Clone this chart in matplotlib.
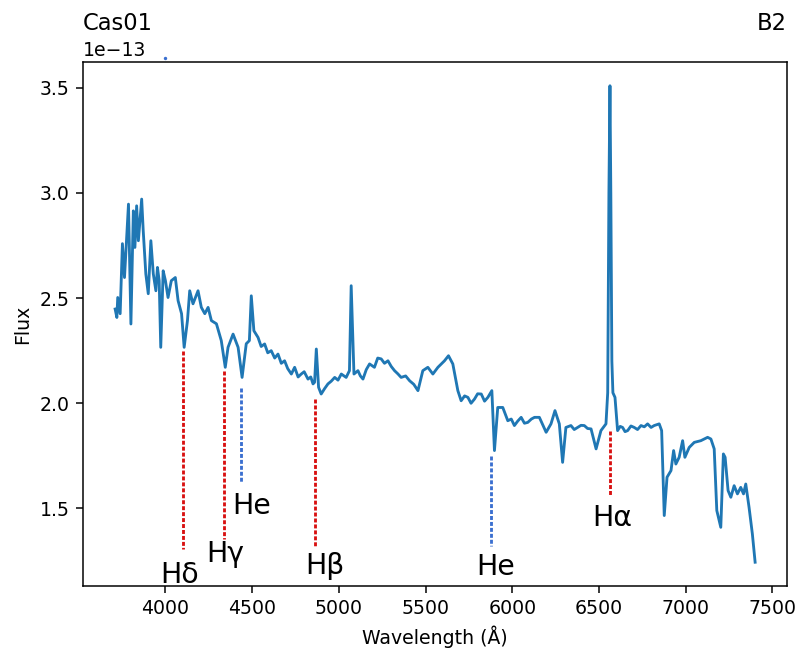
import matplotlib
matplotlib.use("Agg")
import matplotlib.pyplot as plt
import numpy as np

# Spectrum (wavelength in Angstrom, flux in units of 1e-13)
wavelength = [3710, 3720, 3725, 3739, 3752, 3764, 3787, 3801, 3815, 3824, 3834, 3844, 3863, 3872,
              3887, 3901, 3916, 3930, 3945, 3954, 3964, 3973, 3987, 4000, 4015, 4034, 4057, 4073,
              4093, 4108, 4127, 4140, 4159, 4188, 4207, 4227, 4246, 4265, 4294, 4322, 4345, 4361,
              4390, 4419, 4442, 4466, 4484, 4495, 4510, 4534, 4552, 4572, 4590, 4610, 4630, 4649,
              4668, 4687, 4705, 4726, 4745, 4765, 4783, 4800, 4822, 4838, 4851, 4860, 4870, 4883,
              4898, 4918, 4937, 4956, 4976, 4995, 5014, 5042, 5061, 5071, 5087, 5110, 5124, 5139,
              5158, 5177, 5205, 5224, 5244, 5263, 5283, 5302, 5321, 5340, 5359, 5385, 5408, 5432,
              5456, 5484, 5513, 5542, 5571, 5609, 5632, 5657, 5686, 5705, 5725, 5744, 5762, 5782,
              5800, 5821, 5840, 5859, 5882, 5897, 5916, 5945, 5974, 5994, 6012, 6031, 6051, 6070,
              6089, 6110, 6128, 6156, 6195, 6223, 6246, 6271, 6290, 6309, 6338, 6357, 6377, 6396,
              6415, 6434, 6454, 6483, 6511, 6540, 6550, 6557, 6563, 6568, 6574, 6580, 6592, 6607,
              6622, 6636, 6650, 6665, 6684, 6703, 6722, 6742, 6761, 6780, 6800, 6818, 6847, 6861,
              6876, 6892, 6915, 6930, 6943, 6962, 6982, 6995, 7020, 7049, 7087, 7126, 7145, 7164,
              7179, 7202, 7217, 7227, 7244, 7260, 7279, 7298, 7317, 7333, 7346, 7365, 7384, 7400]
flux = [2.448, 2.408, 2.503, 2.426, 2.759, 2.598, 2.947, 2.377, 2.915, 2.741, 2.939, 2.773, 2.971, 2.820,
        2.615, 2.521, 2.773, 2.616, 2.535, 2.646, 2.583, 2.266, 2.630, 2.583, 2.503, 2.583, 2.598, 2.488,
        2.426, 2.266, 2.393, 2.535, 2.473, 2.535, 2.456, 2.426, 2.456, 2.393, 2.378, 2.298, 2.171, 2.266,
        2.329, 2.266, 2.123, 2.283, 2.298, 2.511, 2.345, 2.313, 2.270, 2.282, 2.240, 2.250, 2.215, 2.234,
        2.190, 2.202, 2.165, 2.139, 2.171, 2.125, 2.139, 2.150, 2.115, 2.125, 2.092, 2.100, 2.258, 2.076,
        2.044, 2.070, 2.092, 2.105, 2.123, 2.110, 2.139, 2.123, 2.155, 2.559, 2.139, 2.155, 2.130, 2.115,
        2.160, 2.187, 2.171, 2.215, 2.211, 2.190, 2.202, 2.175, 2.155, 2.140, 2.123, 2.130, 2.107, 2.090,
        2.060, 2.155, 2.171, 2.139, 2.171, 2.202, 2.226, 2.187, 2.060, 2.012, 2.035, 2.028, 2.000, 2.020,
        2.045, 2.044, 2.010, 2.028, 2.060, 1.775, 1.980, 1.980, 1.917, 1.925, 1.894, 1.915, 1.933, 1.905,
        1.909, 1.925, 1.933, 1.933, 1.862, 1.902, 1.965, 1.902, 1.719, 1.885, 1.894, 1.875, 1.885, 1.895,
        1.894, 1.880, 1.878, 1.783, 1.870, 1.902, 2.050, 3.000, 3.510, 3.000, 2.200, 2.050, 2.028, 1.870,
        1.890, 1.885, 1.865, 1.870, 1.892, 1.885, 1.875, 1.894, 1.888, 1.902, 1.885, 1.894, 1.902, 1.870,
        1.466, 1.648, 1.680, 1.775, 1.711, 1.743, 1.822, 1.743, 1.790, 1.814, 1.822, 1.838, 1.830, 1.783,
        1.490, 1.410, 1.759, 1.743, 1.585, 1.553, 1.608, 1.569, 1.600, 1.569, 1.616, 1.505, 1.379, 1.244]

# Line identifications
line_names = ["Hδ", "Hγ", "He", "Hβ", "He", "Hα"]
line_wave = [4102, 4340, 4438, 4861, 5876, 6563]
line_top = [2.25, 2.155, 2.074, 2.022, 1.751, 1.870]
line_bottom = [1.309, 1.356, 1.623, 1.323, 1.323, 1.561]
line_kind = ["H", "H", "He", "H", "He", "H"]
label_x = [4080, 4343, 4498, 4921, 5905, 6574]
label_y = [1.185, 1.285, 1.513, 1.228, 1.223, 1.452]

# small stray marker above the plot
dot_x = [4000]
dot_y = [3.643]

scale = 1e-13
kind_color = {"H": "#d81010", "He": "#3a6fd0"}

DPI = 136
fig = plt.figure(figsize=(799 / DPI, 654 / DPI), dpi=DPI)
ax = fig.add_axes([0.1035, 0.104, 0.8811, 0.8012])

ax.plot(wavelength, np.array(flux) * scale, color="#1f77b4", lw=1.5)

for w, t, b, k in zip(line_wave, line_top, line_bottom, line_kind):
    ax.plot([w, w], [t * scale, b * scale], color=kind_color[k], lw=1.5,
            linestyle=(0, (1.4, 0.7)))

for name, x, y in zip(line_names, label_x, label_y):
    ax.text(x, y * scale, name, fontsize=15, ha="center", va="center")

ax.plot(dot_x, np.array(dot_y) * scale, "o", color="#3a6fd0", ms=1.8, mew=0, clip_on=False)

ax.set_xlim(3523, 7582)
ax.set_ylim(1.131 * scale, 3.623 * scale)
ax.set_xlabel("Wavelength (Å)")
ax.set_ylabel("Flux")
ax.set_title("Cas01", loc="left")
ax.set_title("B2", loc="right")

fig.savefig("out.png", dpi=DPI)
